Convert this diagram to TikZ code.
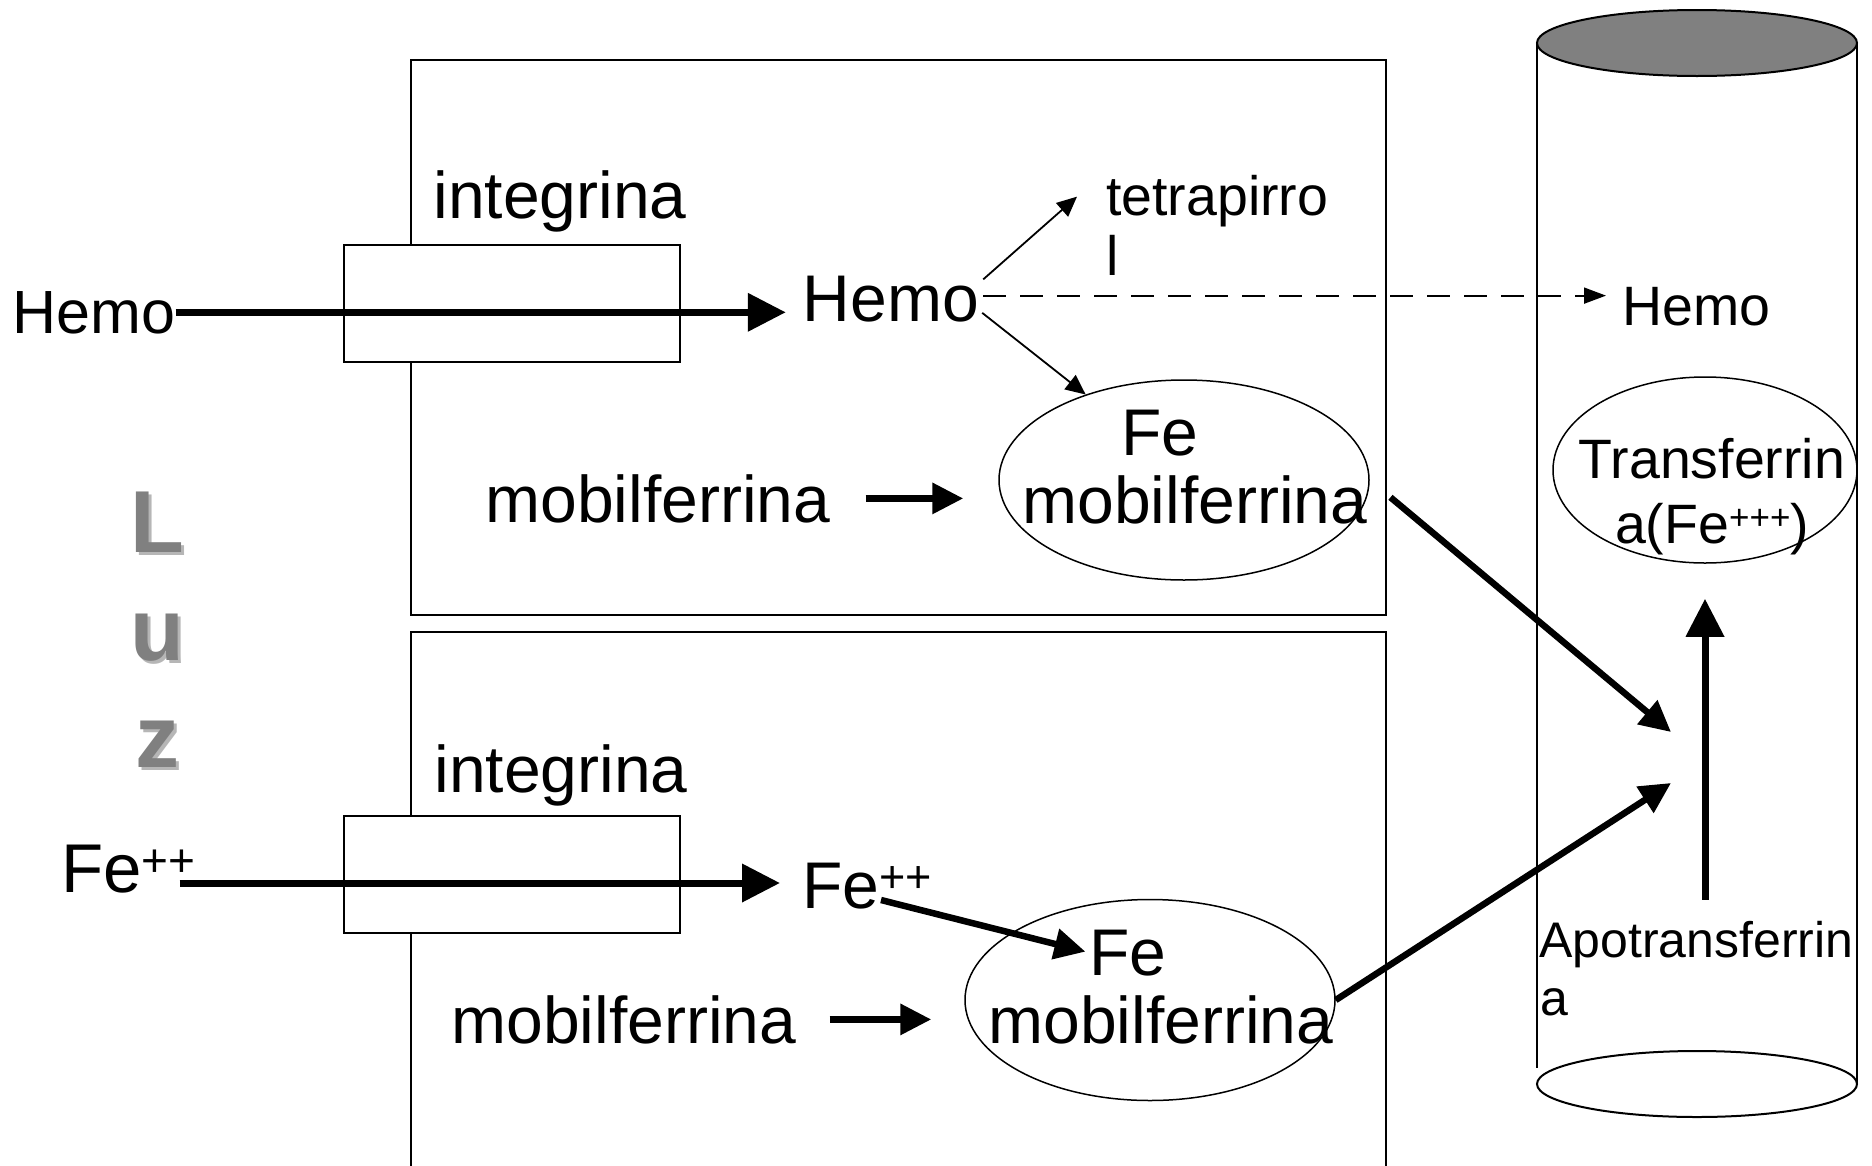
\documentclass[tikz,border=0pt]{standalone}
\usepackage{fontspec}
\setmainfont{Liberation Sans}
\usetikzlibrary{arrows.meta,calc,shapes.geometric}
\definecolor{luzgray}{RGB}{128,128,128}
\definecolor{luzshadow}{RGB}{182,182,182}
\definecolor{cylgray}{RGB}{128,128,128}
\newcommand{\plussup}[3]{\raisebox{#2pt}{\fontsize{#1}{#1}\selectfont #3}}
\begin{document}
\begin{tikzpicture}[x=1pt,y=-1pt,
  txt/.style={inner sep=0pt, anchor=base},
  fbig/.style={font=\fontsize{66}{79}\selectfont},
  fmid/.style={font=\fontsize{55.5}{66}\selectfont},
  fsml/.style={font=\fontsize{50}{60}\selectfont},
  fleft/.style={font=\fontsize{61}{73}\selectfont},
  luz/.style={inner sep=0pt, anchor=base, font=\fontsize{88}{100}\selectfont\bfseries, text=luzgray},
  luzsh/.style={luz, text=luzshadow},
  thinln/.style={line width=1.5pt},
  cyl/.style={line width=2pt},
  memb/.style={draw, line width=1.5pt, fill=white, minimum width=336pt, minimum height=117pt, inner sep=0pt},
  oval/.style={draw, ellipse, line width=1.5pt, inner sep=0pt},
  fat/.style={line width=7pt, -{Triangle[length=38pt,width=37pt]}},
  fatsm/.style={line width=6.5pt, -{Triangle[length=31pt,width=30pt]}},
  slim/.style={line width=1.8pt, -{Triangle[length=20pt,width=18pt]}},
  dashln/.style={line width=1.8pt, dash pattern=on 23pt off 14pt, -{Triangle[length=22pt,width=16pt]}},
]
\fill[white] (0,0) rectangle (1872,1165);
\useasboundingbox (0,0) rectangle (1872,1165);

% cells
\draw[thinln] (411,60) rectangle (1386,615);
\draw[thinln] (411,1170) -- (411,632) -- (1386,632) -- (1386,1170);

% vessel
\draw[cyl] (1537,43) -- (1537,1068);
\draw[cyl] (1857,43) -- (1857,1084);
\draw[cyl] (1697,1084) ellipse [x radius=160, y radius=33];
\draw[cyl, fill=cylgray] (1697,43) ellipse [x radius=160, y radius=33];

% membrane proteins
\node[memb] (int1) at (512,303.5) {};
\node[memb] (int2) at (512,874.5) {};

% Luz
\node[luzsh] (lLs) at (160,555) {L};
\node[luz] (lL) at (157,552) {L};
\node[luzsh] (lUs) at (160,663) {u};
\node[luz] (lU) at (157,660) {u};
\node[luzsh] (lZs) at (160,770) {z};
\node[luz] (lZ) at (157,767) {z};

% texts
\node[txt,fbig] (intT1) at (560,218) {integrina};
\node[txt,fbig] (intT2) at (561,792) {integrina};
\node[txt,fleft] (hemoL) at (94,333) {Hemo};
\node[txt,fbig] (hemoM) at (891,321) {Hemo};
\node[txt,fmid,anchor=base west] (tetra1) at (1106,215) {tetrapirro};
\node[txt,fmid,anchor=base west] (tetra2) at (1106,275) {l};
\node[txt,fmid,anchor=base west] (hemoR) at (1622,325) {Hemo};

\node[oval, minimum width=370pt, minimum height=200pt] (fe1) at (1184,480) {};
\node[txt,fbig] (fe1a) at (1160,455) {Fe};
\node[txt,fbig] (fe1b) at (1195,523) {mobilferrina};
\node[txt,fbig] (mob1) at (658,522) {mobilferrina};

\node[oval, minimum width=370pt, minimum height=201pt] (fe2) at (1150,1000) {};
\node[txt,fbig] (fe2a) at (1128,975) {Fe};
\node[txt,fbig] (fe2b) at (1161,1043) {mobilferrina};
\node[txt,fbig] (mob2) at (624,1043) {mobilferrina};

\node[txt,font=\fontsize{69}{80}\selectfont,anchor=base west] (feL) at (61,892) {Fe\plussup{46}{16}{++}};
\node[txt,fbig,anchor=base west] (feM) at (802,908) {Fe\plussup{45}{16}{++}};

\node[oval, minimum width=304pt, minimum height=186pt] (tr) at (1705,470) {};
\node[txt,fmid] (tr1) at (1712,478) {Transferrin};
\node[txt,fmid] (tr2) at (1712,543) {a(Fe\plussup{35}{14}{+++})};

\node[txt,fsml,anchor=base west] (apo1) at (1539,957) {Apotransferrin};
\node[txt,fsml,anchor=base west] (apo2) at (1540,1015) {a};

\coordinate (in1) at (1671,732);
\coordinate (in2) at (1671,783);

% connectors
\draw[fat, shorten >=17pt] (hemoL.east) -- (hemoL.east -| hemoM.west);
\draw[fat, shorten >=22pt] ($(feL.base east)+(-16,-9)$) -- ($(feM.west |- feL.base east)+(0,-9)$);
\draw[fatsm, shorten >=4pt] ($(feM.base west)+(79,-8)$) -- (fe2a.west);
\draw[slim] ($(hemoM.north east)+(4,4)$) -- ($(tetra1.west)+(-29,-4)$);
\draw[slim] ($(hemoM.south east)+(3,-9)$) -- (fe1.139);
\draw[dashln, shorten >=16pt] ($(hemoM.east)+(4,-3)$) -- ($(hemoM.east -| hemoR.west)+(0,-3)$);
\draw[fatsm, shorten <=35pt, shorten >=35pt] (mob1.east) -- (mob1.east -| fe1.west);
\draw[fatsm, shorten <=33pt, shorten >=33pt] (mob2.east) -- (mob2.east -| fe2.west);
\draw[fatsm, shorten <=27pt] (fe1.east) -- (in1);
\draw[fatsm] (fe2.east) -- (in2);
\draw[fat, shorten <=21pt, shorten >=35pt] (apo1.north -| tr.south) -- (tr.south);
\end{tikzpicture}
\end{document}
